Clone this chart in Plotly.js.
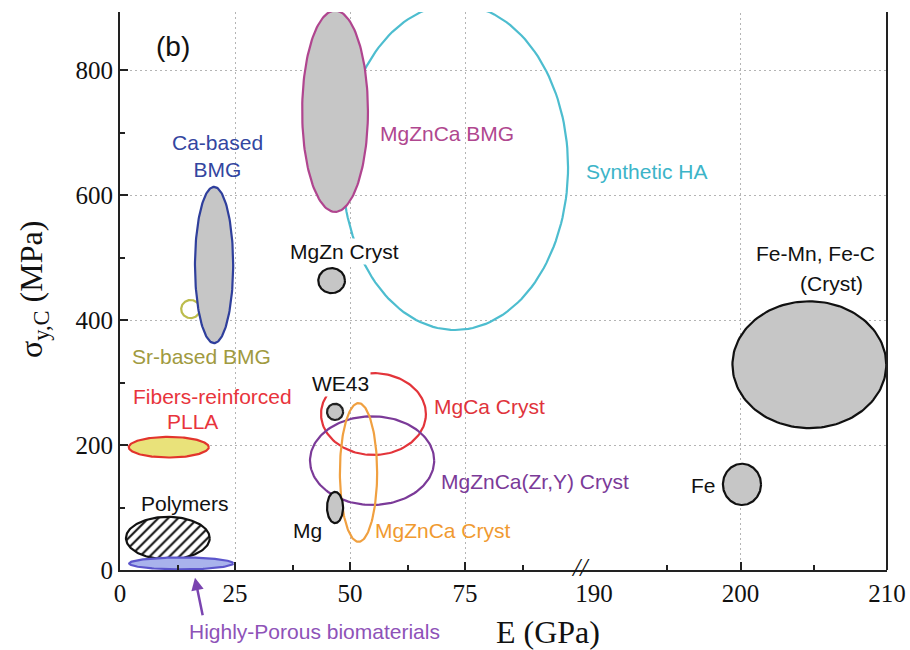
<!DOCTYPE html>
<html><head><meta charset="utf-8">
<script src="https://cdn.plot.ly/plotly-3.0.1.min.js"></script>
<style>html,body{margin:0;padding:0;background:#fff}</style>
</head><body>
<div id="chart" style="width:910px;height:650px"></div>
<script>
// ---- data: property ranges (E in GPa, sigma in MPa) ----
const materials = ["Synthetic HA","MgZnCa BMG","Sr-based BMG","Ca-based BMG","Polymers","Highly-Porous biomaterials","Fibers-reinforced PLLA","MgCa Cryst","MgZnCa(Zr,Y) Cryst","MgZnCa Cryst","WE43","Mg","MgZn Cryst","Fe","Fe-Mn, Fe-C (Cryst)"];
const eMin = [48.3, 39.6, 13.3, 16.3, 1.3, 2.0, 1.9, 43.7, 41.3, 47.8, 45.0, 45.0, 43.1, 198.8, 199.45];
const eMax = [97.4, 53.9, 17.4, 24.6, 19.5, 24.6, 19.3, 66.5, 68.3, 55.9, 48.5, 48.5, 48.9, 201.4, 209.95];
const sMin = [384, 573, 403, 363, 17, 1, 180, 184, 104, 45, 240, 75, 443, 104, 227];
const sMax = [905, 895, 432, 613, 85, 20, 213, 315, 246, 267, 266, 125, 483, 170, 430];
const leftTicks = [0, 25, 50, 75];
const rightTicks = [190, 200, 210];
const yTicks = [0, 200, 400, 600, 800];

// ---- styles ----
const GRAY = '#c6c6c6';
const style = {
  "Synthetic HA": {line:'#4dbdcf', fill:'rgba(0,0,0,0)'},
  "MgZnCa BMG": {line:'#b0458f', fill:GRAY},
  "Sr-based BMG": {line:'#bcbc4c', fill:'#ffffff'},
  "Ca-based BMG": {line:'#2f3f9c', fill:GRAY},
  "Polymers": {line:'#111111', fill:'#ffffff', hatch:true},
  "Highly-Porous biomaterials": {line:'#5c56cc', fill:'#a9b3ec'},
  "Fibers-reinforced PLLA": {line:'#e2342c', fill:'#e9e27a'},
  "MgCa Cryst": {line:'#e3343a', fill:'rgba(0,0,0,0)'},
  "MgZnCa(Zr,Y) Cryst": {line:'#7b3a98', fill:'rgba(0,0,0,0)'},
  "MgZnCa Cryst": {line:'#f0a040', fill:'rgba(0,0,0,0)'},
  "WE43": {line:'#222222', fill:GRAY},
  "Mg": {line:'#111111', fill:GRAY},
  "MgZn Cryst": {line:'#111111', fill:GRAY},
  "Fe": {line:'#111111', fill:GRAY},
  "Fe-Mn, Fe-C (Cryst)": {line:'#111111', fill:GRAY}
};

const traces = materials.map((m, i) => {
  const cx = (eMin[i] + eMax[i]) / 2, rx = (eMax[i] - eMin[i]) / 2;
  const cy = (sMin[i] + sMax[i]) / 2, ry = (sMax[i] - sMin[i]) / 2;
  const xs = [], ys = [];
  for (let k = 0; k <= 160; k++) {
    const t = 2 * Math.PI * k / 160;
    xs.push(cx + rx * Math.cos(t));
    ys.push(cy + ry * Math.sin(t));
  }
  const st = style[m];
  const tr = {
    type:'scatter', mode:'lines', x:xs, y:ys, name:m,
    xaxis: cx > 150 ? 'x2' : 'x', yaxis:'y',
    fill:'toself', fillcolor:st.fill,
    line:{color:st.line, width:2.2}, hoverinfo:'skip', showlegend:false
  };
  if (st.hatch) tr.fillpattern = {shape:'/', fgcolor:'#111', bgcolor:'#fff', size:7, solidity:0.3};
  return tr;
});

const LF = 'Liberation Sans, Arial, sans-serif';
function lab(text, x, y, color, xref, extra) {
  return Object.assign({text:text, x:x, y:y, xref:xref || 'x', yref:'y', showarrow:false,
    font:{family:LF, size:21, color:color}, xanchor:'center', yanchor:'middle'}, extra || {});
}
const annotations = [
  lab('(b)', 11.5, 837, '#111', 'x', {font:{family:LF, size:28, color:'#111'}}),
  lab('Ca-based<br>BMG', 21.1, 662, '#3346a0'),
  lab('Sr-based BMG', 17.8, 341, '#a09a40'),
  lab('Fibers-reinforced', 20.2, 277, '#e8343c'),
  lab('PLLA', 15.7, 237, '#e8343c'),
  lab('Polymers', 14.1, 107, '#111'),
  lab('Highly-Porous biomaterials', 42.2, -0.111, '#8e52b8', 'x', {yref:'paper'}),
  {x:16.3, y:-0.014, xref:'x', yref:'paper', text:'', showarrow:true, ax:8, ay:39, arrowhead:2, arrowsize:1, arrowwidth:2.5, arrowcolor:'#7a44b0'},
  lab('MgZnCa BMG', 71.1, 699, '#b0478f'),
  lab('Synthetic HA', 193.6, 637, '#3cb4c8', 'x2'),
  lab('MgZn Cryst', 48.7, 509, '#111', 'x', {bgcolor:'#ffffff'}),
  lab('WE43', 48.0, 299, '#111', 'x', {bgcolor:'#ffffff'}),
  lab('MgCa Cryst', 80.4, 261, '#e0333b'),
  lab('MgZnCa(Zr,Y) Cryst', 90.2, 141, '#7b3a98'),
  lab('Mg', 40.7, 64, '#111'),
  lab('MgZnCa Cryst', 70.2, 64, '#f09a30'),
  lab('Fe', 197.5, 136, '#111', 'x2'),
  lab('Fe-Mn, Fe-C', 205.1, 507, '#111', 'x2'),
  lab('(Cryst)', 206.2, 459, '#111', 'x2'),
  {text:'<i>//</i>', xref:'paper', yref:'paper', x:0.600, y:0.004, showarrow:false, xanchor:'center', yanchor:'middle',
   font:{family:'Liberation Serif, serif', size:26, color:'#111'}},
  {text:'σ<sub>y,C</sub> (MPa)', xref:'paper', yref:'paper', x:-0.112, y:0.502, textangle:-90, showarrow:false,
   xanchor:'center', yanchor:'middle', font:{family:'Liberation Serif, serif', size:32, color:'#111'}},
  {text:'E (GPa)', xref:'paper', yref:'paper', x:0.558, y:-0.111, showarrow:false,
   xanchor:'center', yanchor:'middle', font:{family:'Liberation Serif, serif', size:32, color:'#111'}}
];

const SPLIT = 0.618;
const tickFont = {family:'Liberation Serif, Times New Roman, serif', size:25, color:'#111'};
const axCommon = {showline:true, linecolor:'#222', linewidth:2, ticks:'inside', ticklen:8, tickwidth:2, tickcolor:'#222',
  tickfont:tickFont, zeroline:false, showgrid:true, gridcolor:'#b4b4b4', griddash:'2px,3px', gridwidth:1, fixedrange:true};

const layout = {
  width:910, height:650,
  margin:{l:120, r:23, t:12, b:80},
  paper_bgcolor:'#fff', plot_bgcolor:'#fff',
  showlegend:false,
  xaxis: Object.assign({}, axCommon, {domain:[0, SPLIT], range:[0, 103.04], tickmode:'array', tickvals:leftTicks,
    minor:{tickvals:[12.5, 37.5, 62.5, 87.5], ticks:'inside', ticklen:5, tickwidth:2, tickcolor:'#222', showgrid:false}, anchor:'y'}),
  xaxis2: Object.assign({}, axCommon, {domain:[SPLIT, 1], range:[190, 210], tickmode:'array', tickvals:rightTicks, showgrid:false,
    minor:{tickvals:[195, 205], ticks:'inside', ticklen:5, tickwidth:2, tickcolor:'#222', showgrid:false}, anchor:'y'}),
  yaxis: Object.assign({}, axCommon, {range:[0, 892.8], tickmode:'array', tickvals:yTicks, anchor:'x',
    minor:{tickvals:[100, 300, 500, 700], ticks:'inside', ticklen:5, tickwidth:2, tickcolor:'#222', showgrid:false}}),
  shapes:[
    {type:'line', xref:'x2', yref:'paper', x0:200, x1:200, y0:0, y1:1, line:{color:'#b4b4b4', width:1, dash:'2px,3px'}, layer:'below'},
    {type:'line', xref:'paper', yref:'paper', x0:1, x1:1, y0:0, y1:1, line:{color:'#222', width:2}}
  ],
  annotations: annotations
};

Plotly.newPlot('chart', traces, layout, {displayModeBar:false, staticPlot:true});
</script>
</body></html>
